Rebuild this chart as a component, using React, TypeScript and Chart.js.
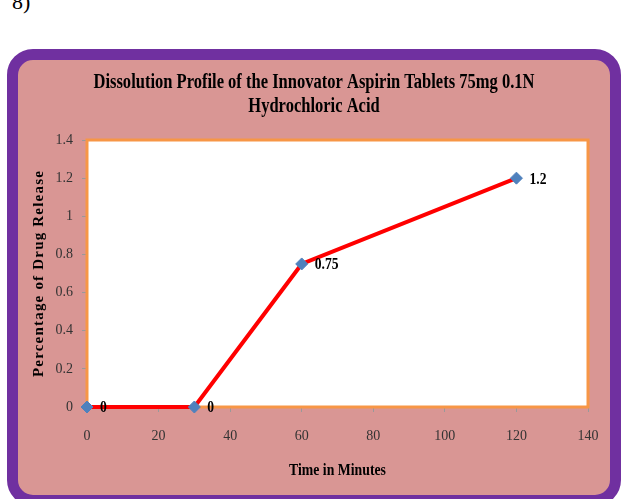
import React, { useEffect, useRef } from "react";
import { Chart, registerables } from "chart.js";

Chart.register(...registerables);

const times = [0, 30, 60, 120];
const release = [0, 0, 0.75, 1.2];
const pointLabels = ["0", "0", "0.75", "1.2"];
const yTickLabels = ["0", "0.2", "0.4", "0.6", "0.8", "1", "1.2", "1.4"];
const xTickLabels = ["0", "20", "40", "60", "80", "100", "120", "140"];
const titleLines = [
  "Dissolution Profile of the Innovator Aspirin Tablets 75mg 0.1N",
  "Hydrochloric Acid",
];
const xTitle = "Time in Minutes";
const yTitle = "Percentage of Drug Release";

const SERIF = "'Liberation Serif', 'Times New Roman', serif";

function drawText(
  ctx: CanvasRenderingContext2D,
  text: string,
  x: number,
  y: number,
  font: string,
  sx: number,
  align: CanvasTextAlign,
  rotate = 0,
  spacing = "0px",
  baseline: CanvasTextBaseline = "alphabetic"
) {
  ctx.save();
  ctx.translate(x, y);
  if (rotate) ctx.rotate(rotate);
  ctx.scale(sx, 1);
  ctx.font = font;
  ctx.textAlign = align;
  ctx.textBaseline = baseline;
  ctx.fillStyle = "#000";
  (ctx as any).letterSpacing = spacing;
  ctx.fillText(text, 0, 0);
  ctx.restore();
}

const decorPlugin = {
  id: "decor",
  beforeDraw(chart: any) {
    const { ctx, chartArea } = chart;
    ctx.save();
    ctx.fillStyle = "#FFFFFF";
    ctx.fillRect(chartArea.left, chartArea.top, chartArea.right - chartArea.left, chartArea.bottom - chartArea.top);
    ctx.restore();
  },
  beforeDatasetsDraw(chart: any) {
    const { ctx, chartArea } = chart;
    ctx.save();
    ctx.strokeStyle = "#F79646";
    ctx.lineWidth = 3;
    ctx.strokeRect(chartArea.left, chartArea.top, chartArea.right - chartArea.left, chartArea.bottom - chartArea.top);
    ctx.restore();
  },
  afterDatasetsDraw(chart: any) {
    const { ctx } = chart;
    const meta = chart.getDatasetMeta(0);
    meta.data.forEach((pt: any, i: number) => {
      drawText(ctx, pointLabels[i], pt.x + 13, pt.y + 1, `bold 17px ${SERIF}`, 0.8, "left", 0, "0px", "middle");
    });
  },
  afterDraw(chart: any) {
    const { ctx, chartArea, width } = chart;
    drawText(ctx, titleLines[0], width / 2, 28, `bold 20px ${SERIF}`, 0.826, "center");
    drawText(ctx, titleLines[1], width / 2, 52, `bold 20px ${SERIF}`, 0.826, "center");
    const cx = (chartArea.left + chartArea.right) / 2;
    drawText(ctx, xTitle, cx, chartArea.bottom + 68, `bold 17px ${SERIF}`, 0.81, "center");
    const cy = (chartArea.top + chartArea.bottom) / 2;
    drawText(ctx, yTitle, 25, cy, `bold 15px ${SERIF}`, 1, "center", -Math.PI / 2, "1.2px");
  },
};

export default function App() {
  const ref = useRef<HTMLCanvasElement | null>(null);
  useEffect(() => {
    if (!ref.current) return;
    const chart = new Chart(ref.current, {
      type: "line",
      data: {
        datasets: [
          {
            data: times.map((t, i) => ({ x: t, y: release[i] })),
            borderColor: "#FF0000",
            borderWidth: 4,
            pointStyle: "rectRot",
            pointRadius: 6,
            pointBackgroundColor: "#4F81BD",
            pointBorderColor: "#4F81BD",
            pointBorderWidth: 1,
            tension: 0,
            clip: false as any,
          },
        ],
      },
      options: {
        responsive: false,
        animation: false,
        layout: { padding: { left: 0, top: 80, right: 22, bottom: 0 } },
        plugins: { legend: { display: false }, title: { display: false }, tooltip: { enabled: false } },
        scales: {
          x: {
            type: "linear",
            min: 0,
            max: 140,
            border: { display: false },
            grid: { drawOnChartArea: false, drawTicks: true, tickLength: 5, color: "#999" },
            ticks: {
              stepSize: 20,
              padding: 16,
              color: "#333",
              font: { family: SERIF, size: 14 },
              maxRotation: 0,
              callback: (v: any, i: number) => xTickLabels[i],
            },
            afterFit: (s: any) => {
              s.height = 88;
              s.paddingLeft = 0;
              s.paddingRight = 0;
            },
          },
          y: {
            min: 0,
            max: 1.4,
            border: { display: false },
            grid: { drawOnChartArea: false, drawTicks: true, tickLength: 5, color: "#999" },
            ticks: {
              stepSize: 0.2,
              padding: 9,
              color: "#333",
              font: { family: SERIF, size: 14 },
              callback: (v: any, i: number) => yTickLabels[i],
            },
            afterFit: (s: any) => {
              s.width = 69;
              s.paddingTop = 0;
              s.paddingBottom = 0;
            },
          },
        },
      },
      plugins: [decorPlugin],
    });
    return () => chart.destroy();
  }, []);

  return (
    <div
      style={{
        position: "fixed",
        left: 0,
        top: 0,
        width: 629,
        height: 499,
        overflow: "hidden",
        background: "#FFFFFF",
      }}
    >
      <div
        style={{
          position: "absolute",
          left: 12,
          top: -8,
          fontFamily: SERIF,
          fontSize: 22,
          lineHeight: "20px",
          color: "#000",
        }}
      >
        8)
      </div>
      <div
        style={{
          position: "absolute",
          left: 7,
          top: 49,
          width: 614,
          height: 457,
          boxSizing: "border-box",
          border: "11px solid #7030A0",
          borderRadius: 26,
          background: "#D99694",
          overflow: "hidden",
        }}
      >
        <canvas ref={ref} width={592} height={435} style={{ display: "block" }} />
      </div>
    </div>
  );
}
